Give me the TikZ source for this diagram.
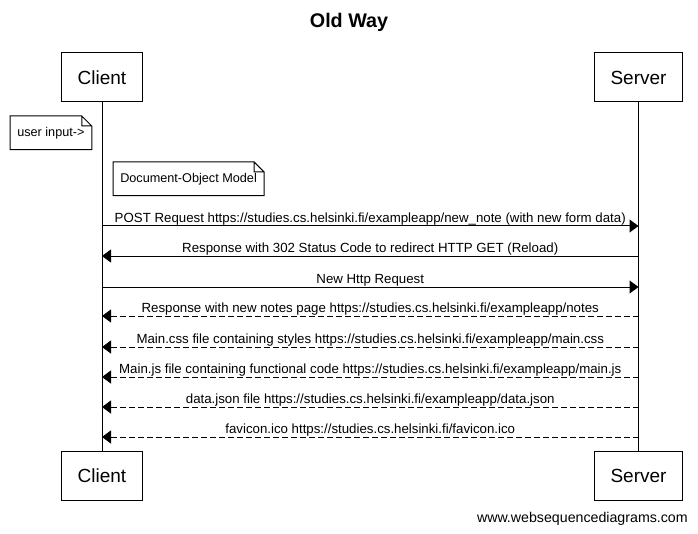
\documentclass[tikz,border=0pt]{standalone}
\usepackage{fontspec}
\setmainfont{Liberation Sans}
\usetikzlibrary{positioning,arrows.meta}

\begin{document}
\begin{tikzpicture}[x=0.75pt,y=-0.75pt,
    actor/.style={draw,line width=0.75pt,inner xsep=12pt,minimum height=36.75pt,font=\fontsize{14.25}{16}\selectfont},
    notebox/.style={inner xsep=5.25pt,minimum height=24.75pt,font=\fontsize{9.5}{11}\selectfont},
    msg/.style={line width=0.75pt,-{Triangle[length=6.75pt,width=9.75pt]}},
    reply/.style={msg,dash pattern=on 4.5pt off 2.25pt},
    msglabel/.style={anchor=base,yshift=2.5pt,inner sep=0pt,font=\fontsize{9.95}{11}\selectfont}]
    \useasboundingbox (0,0) rectangle (698,534);
    %%%%% THE TITLE
    \node[font=\bfseries\fontsize{14.8}{17}\selectfont] (title) at (349,22) {Old Way};
    %%%%% THE PARTICIPANTS
    \node[actor] (client top) at (102,77.5) {Client};
    \node[actor] (server top) at (638.5,77.5) {Server};
    \node[actor] (client bot) at (102,476) {Client};
    \node[actor] (server bot) at (638.5,476) {Server};
    \draw[line width=0.75pt] (client top) -- (client bot);
    \draw[line width=0.75pt] (server top) -- (server bot);
    %%%%% THE NOTES
    \node[notebox,anchor=north west] (input) at (10,116) {user input->};
    \draw[line width=0.75pt] (input.north west) -- ([xshift=-7.5pt]input.north east) -- ([yshift=-7.5pt]input.north east)
      -- (input.south east) -- (input.south west) -- cycle
      ([xshift=-7.5pt]input.north east) |- ([yshift=-7.5pt]input.north east);
    \node[notebox,anchor=north west] (dom) at (113,162) {Document-Object Model};
    \draw[line width=0.75pt] (dom.north west) -- ([xshift=-7.5pt]dom.north east) -- ([yshift=-7.5pt]dom.north east)
      -- (dom.south east) -- (dom.south west) -- cycle
      ([xshift=-7.5pt]dom.north east) |- ([yshift=-7.5pt]dom.north east);
    %%%%% THE MESSAGES
    \coordinate (c1) at (102,226); \coordinate (s1) at (638.5,226);
    \coordinate (c2) at (102,256); \coordinate (s2) at (638.5,256);
    \coordinate (c3) at (102,287); \coordinate (s3) at (638.5,287);
    \coordinate (c4) at (102,316); \coordinate (s4) at (638.5,316);
    \coordinate (c5) at (102,347); \coordinate (s5) at (638.5,347);
    \coordinate (c6) at (102,377); \coordinate (s6) at (638.5,377);
    \coordinate (c7) at (102,407); \coordinate (s7) at (638.5,407);
    \coordinate (c8) at (102,437); \coordinate (s8) at (638.5,437);
    \draw[msg] (c1) -- node[msglabel] {POST Request https://studies.cs.helsinki.fi/exampleapp/new\_note (with new form data)} (s1);
    \draw[msg] (s2) -- node[msglabel] {Response with 302 Status Code to redirect HTTP GET (Reload)} (c2);
    \draw[msg] (c3) -- node[msglabel] {New Http Request} (s3);
    \draw[reply] (s4) -- node[msglabel] {Response with new notes page https://studies.cs.helsinki.fi/exampleapp/notes} (c4);
    \draw[reply] (s5) -- node[msglabel] {Main.css file containing styles https://studies.cs.helsinki.fi/exampleapp/main.css} (c5);
    \draw[reply] (s6) -- node[msglabel] {Main.js file containing functional code https://studies.cs.helsinki.fi/exampleapp/main.js} (c6);
    \draw[reply] (s7) -- node[msglabel] {data.json file https://studies.cs.helsinki.fi/exampleapp/data.json} (c7);
    \draw[reply] (s8) -- node[msglabel] {favicon.ico https://studies.cs.helsinki.fi/favicon.ico} (c8);
    %%%%% THE FOOTER
    \node[anchor=east,inner sep=0pt,font=\fontsize{10.65}{12}\selectfont] (footer) at (688,519) {www.websequencediagrams.com};
\end{tikzpicture}
\end{document}
